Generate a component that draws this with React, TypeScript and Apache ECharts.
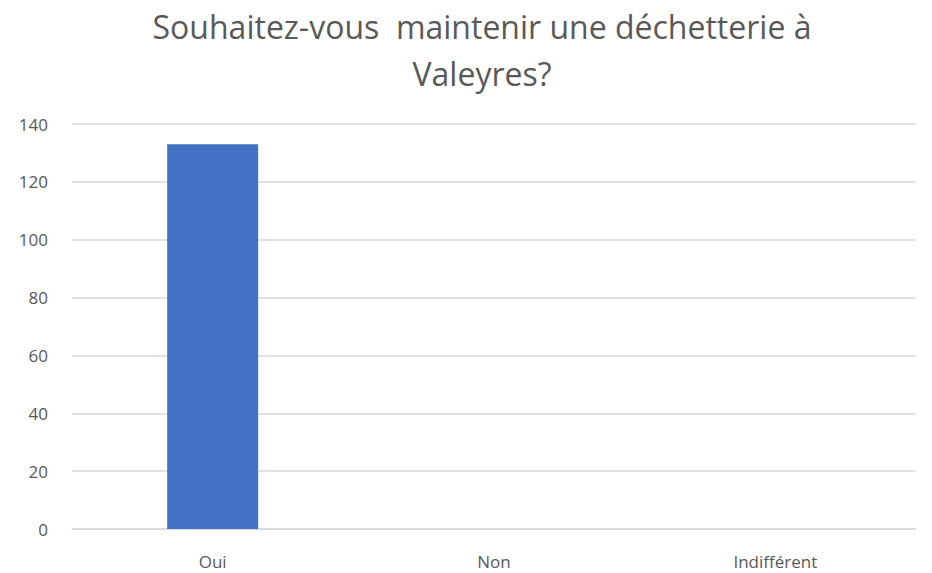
import React, { useEffect, useRef } from "react";
import * as echarts from "echarts";

const categories = ["Oui", "Non", "Indifférent"];
const values = [133, 0, 0];
const titleText = "Souhaitez-vous  maintenir une déchetterie à\nValeyres?";

export default function App() {
  const ref = useRef<HTMLDivElement>(null);
  useEffect(() => {
    const chart = echarts.init(ref.current!, null, { renderer: "svg" });
    chart.setOption({
      animation: false,
      backgroundColor: "#ffffff",
      graphic: [
        {
          type: "text",
          x: 482,
          y: 3,
          style: {
            text: titleText,
            align: "center",
            verticalAlign: "top",
            fontFamily: "Open Sans",
            fontSize: 32,
            lineHeight: 47,
            fill: "#595959",
          },
        },
      ],
      grid: { left: 72, right: 16, top: 124, bottom: 44 },
      xAxis: {
        type: "category",
        data: categories,
        axisLine: { lineStyle: { color: "#d9d9d9", width: 1.5 } },
        axisTick: { show: false },
        axisLabel: { color: "#595959", fontSize: 17, fontFamily: "Open Sans", margin: 24 },
      },
      yAxis: {
        type: "value",
        min: 0,
        max: 140,
        interval: 20,
        axisLine: { show: false },
        axisTick: { show: false },
        splitLine: { lineStyle: { color: "#d9d9d9", width: 1.5 } },
        axisLabel: { color: "#595959", fontSize: 17, fontFamily: "Open Sans", margin: 24 },
      },
      series: [
        {
          type: "bar",
          data: values,
          barWidth: 91,
          itemStyle: { color: "#4472c4" },
        },
      ],
    });
    return () => chart.dispose();
  }, []);
  return (
    <div
      ref={ref}
      style={{ position: "absolute", left: 0, top: 0, width: 932, height: 573 }}
    />
  );
}
